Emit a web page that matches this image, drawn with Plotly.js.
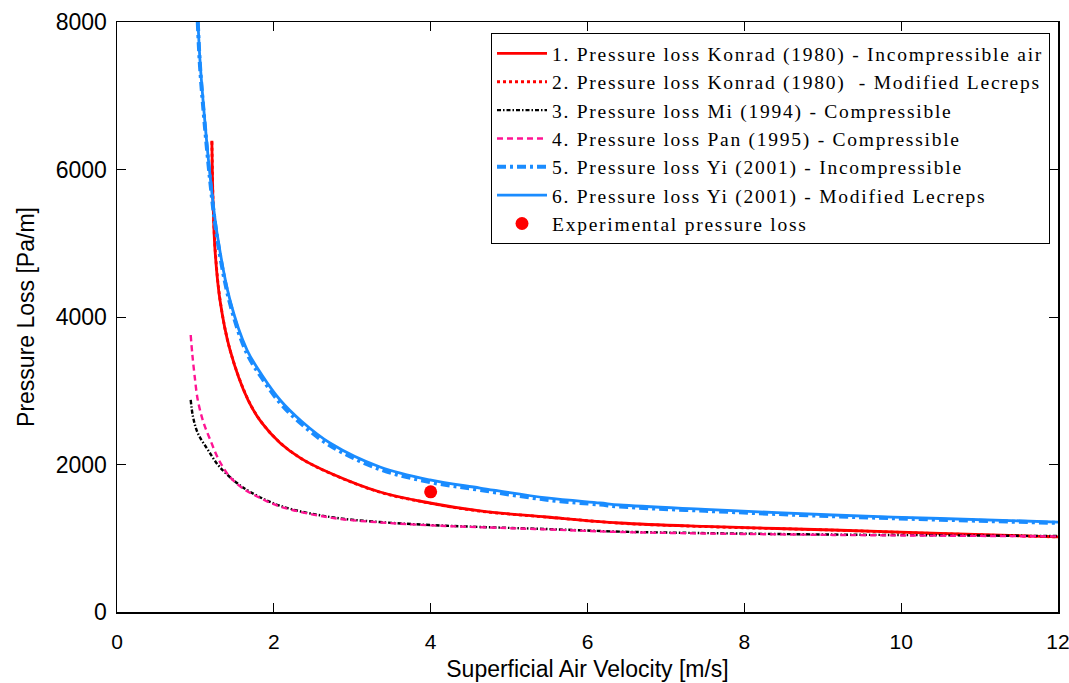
<!DOCTYPE html>
<html>
<head>
<meta charset="utf-8">
<script src="https://cdn.plot.ly/plotly-3.0.1.min.js"></script>
<style>
html,body{margin:0;padding:0;background:#fff;}
#chart{width:1069px;height:683px;}
.legendtext{letter-spacing:1.75px;}
</style>
</head>
<body>
<div id="chart"></div>
<script>
// 1. Konrad (1980) - incompressible air
var konradIncX = [1.21,1.224,1.25,1.313,1.441,1.67,1.85,2.08,2.35,2.716,3.354,3.99,4.63,5.48,6.41,7.5,9.13,10.5,12];
var konradIncY = [6390,5586,4908,4230,3553,2875,2560,2292,2080,1885,1627,1478,1370,1288,1207,1160,1112,1065,1020];
// 2. Konrad (1980) - modified Lecreps
var konradModX = [1.21,1.226,1.255,1.32,1.45,1.68,1.86,2.09,2.36,2.72,3.36,4.0,4.64,5.5,6.42,7.52,9.15,10.5,12];
var konradModY = [6380,5540,4870,4190,3520,2860,2550,2285,2075,1880,1622,1474,1366,1285,1204,1157,1110,1062,1017];
// 3. Mi (1994) - compressible
var miX = [0.94,0.97,1.03,1.16,1.31,1.53,1.70,2.08,2.72,3.35,3.99,4.63,5.48,6.41,7.5,9.13,10.5,12];
var miY = [2875,2644,2427,2197,1966,1749,1627,1440,1288,1220,1180,1153,1125,1090,1070,1050,1040,1030];
// 4. Pan (1995) - compressible
var panX = [0.94,0.96,0.99,1.03,1.10,1.19,1.30,1.44,1.60,1.80,2.08,2.72,3.35,3.99,4.63,5.48,6.41,7.5,9.13,10.5,12];
var panY = [3756,3500,3200,2875,2580,2332,2060,1831,1680,1560,1430,1280,1215,1175,1150,1120,1085,1065,1045,1035,1025];
// 5. Yi (2001) - incompressible
var yiIncX = [1.03,1.055,1.095,1.185,1.275,1.441,1.658,1.85,2.08,2.35,2.716,3.354,3.99,4.63,5.48,6.16,6.41,7.5,9.13,10.5,12];
var yiIncY = [8000,7460,6900,5880,5090,4185,3505,3170,2835,2552,2258,1935,1762,1655,1522,1456,1430,1372,1298,1252,1208];
// 6. Yi (2001) - modified Lecreps
var yiModX = [1.033,1.058,1.097,1.186,1.275,1.441,1.658,1.85,2.08,2.35,2.716,3.354,3.99,4.63,5.48,6.16,6.41,7.5,9.13,10.5,12];
var yiModY = [8000,7485,6942,5925,5139,4230,3553,3210,2875,2590,2292,1966,1790,1681,1546,1478,1451,1392,1315,1268,1220];
// Experimental
var expX = [4.0];
var expY = [1630];

var names = [
  "1. Pressure loss Konrad (1980) - Incompressible air",
  "2. Pressure loss Konrad (1980)  - Modified Lecreps",
  "3. Pressure loss Mi (1994) - Compressible",
  "4. Pressure loss Pan (1995) - Compressible",
  "5. Pressure loss Yi (2001) - Incompressible",
  "6. Pressure loss Yi (2001) - Modified Lecreps",
  "Experimental pressure loss"
];

var red = "#ff0000", black = "#000000", pink = "#ff1493", blue = "#1a8cff";

var traces = [
  {x: konradModX, y: konradModY, name: names[1], mode: "lines", legendrank: 2,
   line: {color: red, width: 2.8, dash: "dot", shape: "spline"}},
  {x: konradIncX, y: konradIncY, name: names[0], mode: "lines", legendrank: 1,
   line: {color: red, width: 2.8, shape: "spline"}},
  {x: miX, y: miY, name: names[2], mode: "lines", legendrank: 3,
   line: {color: black, width: 2.4, dash: "4px,2px,1.5px,2px", shape: "spline"}},
  {x: panX, y: panY, name: names[3], mode: "lines", legendrank: 4,
   line: {color: pink, width: 2.4, dash: "6px,4px", shape: "spline"}},
  {x: yiIncX, y: yiIncY, name: names[4], mode: "lines", legendrank: 5,
   line: {color: blue, width: 4, dash: "9px,4px,3px,4px", shape: "spline"}},
  {x: yiModX, y: yiModY, name: names[5], mode: "lines", legendrank: 6,
   line: {color: blue, width: 2.8, shape: "spline"}},
  {x: expX, y: expY, name: names[6], mode: "markers", legendrank: 7,
   marker: {color: red, size: 13, symbol: "circle"}}
];

var sans = "Liberation Sans, Arial, sans-serif";

var layout = {
  width: 1069, height: 683,
  margin: {l: 117, r: 11, t: 22, b: 71},
  paper_bgcolor: "#fff", plot_bgcolor: "#fff",
  showlegend: true,
  xaxis: {
    range: [0, 12], dtick: 2, tick0: 0,
    showgrid: false, zeroline: false,
    showline: true, mirror: "ticks", linecolor: "#000", linewidth: 1.5,
    ticks: "inside", ticklen: 9, tickwidth: 1, tickcolor: "#000",
    ticklabelstandoff: 10, ticklabeloverflow: "allow",
    tickfont: {family: sans, size: 21, color: "#000"},
    title: {text: "Superficial Air Velocity [m/s]", font: {family: sans, size: 23, color: "#000"}, standoff: 9}
  },
  yaxis: {
    range: [0, 8000], dtick: 2000, tick0: 0, tickformat: "d",
    showgrid: false, zeroline: false,
    showline: true, mirror: "ticks", linecolor: "#000", linewidth: 1.5,
    ticks: "inside", ticklen: 9, tickwidth: 1, tickcolor: "#000",
    ticklabelstandoff: 4, ticklabeloverflow: "allow",
    tickfont: {family: sans, size: 23, color: "#000"},
    title: {text: "Pressure Loss [Pa/m]", font: {family: sans, size: 23, color: "#000"}, standoff: 14}
  },
  legend: {
    x: 0.9915, y: 0.981, xanchor: "right", yanchor: "top",
    bgcolor: "#fff", bordercolor: "#000", borderwidth: 1,
    font: {family: "Liberation Serif, Times New Roman, serif", size: 19.5, color: "#000"},
    itemwidth: 50
  }
};

Plotly.newPlot("chart", traces, layout, {displayModeBar: false, staticPlot: true});
</script>
</body>
</html>
